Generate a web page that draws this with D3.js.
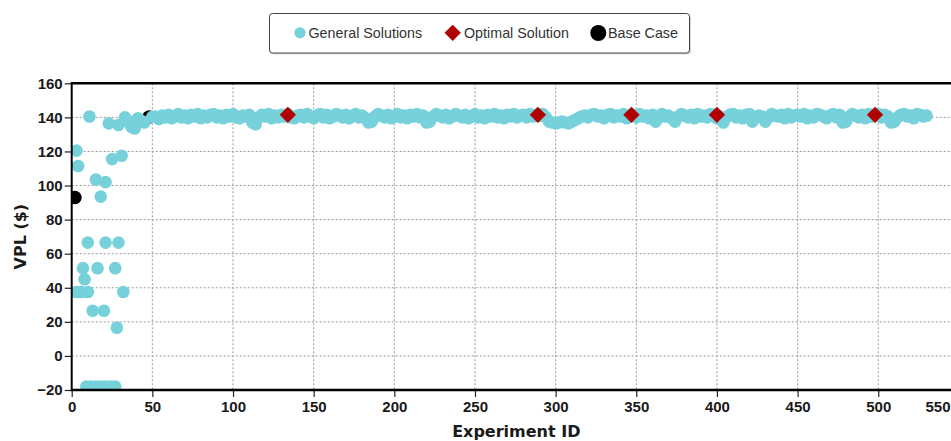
<!DOCTYPE html>
<html>
<head>
<meta charset="utf-8">
<script src="https://cdn.jsdelivr.net/npm/d3@7"></script>
<style>
  html, body { margin: 0; padding: 0; background: #fff; }
  svg { display: block; }
</style>
</head>
<body>
<svg id="chart" width="951" height="441"></svg>
<script>
// ---------- DATA ----------
const xTicks = [0, 50, 100, 150, 200, 250, 300, 350, 400, 450, 500, 550];
const yTicks = [-20, 0, 20, 40, 60, 80, 100, 120, 140, 160];

// General solutions: early scattered experiments (ID, VPL)
const earlyIds    = [3, 4, 15, 21, 18, 25, 31, 10, 21, 29, 7, 16, 27, 8, 3, 6, 10, 32, 13, 20, 28,
                     9, 12, 15, 18, 21, 24, 27,
                     11, 23, 29, 33, 34, 36, 37, 39, 41, 43, 45];
const earlyValues = [120.5, 111.5, 103.5, 102, 93.5, 115.5, 117.5, 66.5, 66.5, 66.5, 51.5, 51.5, 51.5, 45, 37.5, 37.5, 37.5, 37.5, 26.5, 26.5, 16.5,
                     -18, -18, -18, -18, -18, -18, -18,
                     140.5, 136.5, 135.5, 140, 138.5, 136.5, 134.5, 133.5, 139.5, 138, 137];

// General solutions: converged band, experiment IDs 50..530 sampled every 2
const bandIds = d3.range(50, 531, 2);
const bandValues = [
  140.3, 140.5, 139, 141, 140, 141.5, 139.5, 140.5, 142, 140,
  141, 139.5, 141.5, 140.5, 142, 139.5, 141, 140, 141.5, 142,
  140, 141, 139.5, 141.5, 140.5, 142, 140, 139.5, 141, 140.5,
  141.5, 137, 136, 140, 141.5, 140.5, 142, 139.5, 141, 140,
  141.5, 140.5, 142, 140, 139.5, 141, 141.5, 140, 142, 140.5,
  139.5, 141, 142, 140, 141.5, 139.5, 140.5, 142, 141, 140,
  141.5, 139.5, 140.5, 142, 140, 141, 139.5, 137, 137.5, 140.5,
  142, 141, 140, 141.5, 139.5, 140.5, 142, 140, 141, 139.5,
  141.5, 140.5, 142, 140, 141, 137, 137.5, 140.5, 142, 141,
  140, 141.5, 139.5, 140.5, 142, 141, 140, 141.5, 139.5, 140.5,
  142, 140, 141, 139.5, 141.5, 140.5, 142, 140, 141, 139.5,
  141.5, 140.5, 142, 140, 141, 141.5, 140, 142, 140.5, 141.5,
  141, 142, 140, 137.5, 137, 136.5, 137, 137.5, 137, 136.5,
  137.5, 138.5, 139.5, 140.5, 141, 140, 141.5, 142, 140.5, 141,
  139.5, 141.5, 142, 140, 141, 140.5, 142, 139.5, 141, 141.5,
  140, 142, 140.5, 141, 139.5, 141.5, 137.5, 140, 142, 140.5,
  141, 139.5, 137.5, 140.5, 142, 141, 140, 141.5, 139.5, 142,
  140.5, 141, 140, 142, 141.5, 139.5, 140.5, 137, 140, 141.5,
  142, 140, 141, 139.5, 141.5, 142, 137.5, 140, 141, 140.5,
  137.5, 140, 142, 141, 140.5, 141.5, 139.5, 142, 140, 141,
  141.5, 140.5, 142, 139.5, 141, 140, 142, 141.5, 140.5, 139.5,
  141, 142, 140, 141.5, 137, 137.5, 140.5, 142, 141, 140,
  141.5, 139.5, 142, 140.5, 141, 142, 140, 141.5, 140.5, 137,
  137.5, 140, 141.5, 142, 140.5, 141, 139.5, 142, 141.5, 140.5,
  141
];

// Optimal solutions
const optimalIds    = [134, 289, 347, 400, 498];
const optimalValues = [141.5, 141.5, 141.5, 141.5, 141.5];

// Base case
const baseIds    = [2, 48];
const baseValues = [93, 140.2];

const legendLabels = ["General Solutions", "Optimal Solution", "Base Case"];

// ---------- STYLE ----------
const cyan = "#76d1db";
const red = "#b00000";

const svg = d3.select("#chart");
svg.append("rect").attr("width", 951).attr("height", 441).attr("fill", "#fff");

const x = d3.scaleLinear().domain([0, 550]).range([71.7, 958.9]);
const y = d3.scaleLinear().domain([-20, 160]).range([390, 83.3]);

// Grid
const grid = svg.append("g");
grid.selectAll("line.h").data(yTicks.filter(t => t > -20 && t < 160)).join("line")
  .attr("x1", x(0)).attr("x2", x(550))
  .attr("y1", d => y(d)).attr("y2", d => y(d))
  .attr("stroke", "#9a9a9a").attr("stroke-width", 1).attr("stroke-dasharray", "2,2");
grid.selectAll("line.v").data(xTicks.filter(t => t > 0)).join("line")
  .attr("y1", y(160)).attr("y2", y(-20))
  .attr("x1", d => x(d)).attr("x2", d => x(d))
  .attr("stroke", "#9a9a9a").attr("stroke-width", 1).attr("stroke-dasharray", "2,2");

// Clip
svg.append("clipPath").attr("id", "plotclip").append("rect")
  .attr("x", x(0)).attr("y", y(160)).attr("width", x(550) - x(0)).attr("height", y(-20) - y(160));
const plot = svg.append("g").attr("clip-path", "url(#plotclip)");

// Base case (under general solutions)
plot.selectAll("circle.base").data(baseIds.map((d, i) => [d, baseValues[i]])).join("circle")
  .attr("cx", d => x(d[0])).attr("cy", d => y(d[1])).attr("r", 6.8).attr("fill", "#000");

// General solutions
const gen = earlyIds.map((d, i) => [d, earlyValues[i]])
  .concat(bandIds.map((d, i) => [d, bandValues[i]]));
plot.selectAll("circle.gen").data(gen).join("circle")
  .attr("cx", d => x(d[0])).attr("cy", d => y(d[1])).attr("r", 6.3).attr("fill", cyan);

// Optimal
const diamond = d3.symbol().type(d3.symbolDiamond2).size(170);
plot.selectAll("path.opt").data(optimalIds.map((d, i) => [d, optimalValues[i]])).join("path")
  .attr("transform", d => `translate(${x(d[0])},${y(d[1])})`)
  .attr("d", diamond).attr("fill", red);

// Axes
const tickFont = "'Liberation Sans', Arial, sans-serif";
const yAxis = svg.append("g").attr("transform", `translate(${x(0)},0)`)
  .call(d3.axisLeft(y).tickValues(yTicks).tickSize(7).tickPadding(2).tickSizeOuter(0));
const xAxis = svg.append("g").attr("transform", `translate(0,${y(-20)})`)
  .call(d3.axisBottom(x).tickValues(xTicks).tickSize(7).tickPadding(4).tickSizeOuter(0));
[yAxis, xAxis].forEach(a => {
  a.select(".domain").remove();
  a.selectAll(".tick line").attr("stroke", "#222").attr("stroke-width", 1.2);
  a.selectAll(".tick text").attr("fill", "#1a1a1a")
    .style("font-family", tickFont).style("font-weight", "bold").style("font-size", "15px");
});
// keep the last x label inside the picture
xAxis.selectAll(".tick").filter(d => d === 550).select("text")
  .attr("text-anchor", "end").attr("x", 950 - x(550));

// Frame lines
svg.append("line").attr("x1", x(0)).attr("x2", 951).attr("y1", y(160)).attr("y2", y(160))
  .attr("stroke", "#000").attr("stroke-width", 2.5);
svg.append("line").attr("x1", x(0)).attr("x2", 951).attr("y1", y(-20)).attr("y2", y(-20))
  .attr("stroke", "#000").attr("stroke-width", 2.5);
svg.append("line").attr("x1", x(0)).attr("x2", x(0)).attr("y1", y(160) - 1.2).attr("y2", y(-20) + 1.2)
  .attr("stroke", "#000").attr("stroke-width", 2);

// Axis titles
const titleFont = "'DejaVu Sans', sans-serif";
svg.append("text").attr("x", (x(0) + x(550)) / 2 + 1).attr("y", 437)
  .attr("text-anchor", "middle").attr("fill", "#1a1a1a")
  .style("font-family", titleFont).style("font-weight", "bold").style("font-size", "16px")
  .text("Experiment ID");
svg.append("text").attr("transform", `translate(25.5,${(y(160) + y(-20)) / 2}) rotate(-90)`)
  .attr("text-anchor", "middle").attr("fill", "#1a1a1a")
  .style("font-family", titleFont).style("font-weight", "bold").style("font-size", "16px")
  .text("VPL ($)");

// Legend
const lg = svg.append("g");
lg.append("rect").attr("x", 271).attr("y", 15).attr("width", 420).attr("height", 39.5).attr("rx", 3)
  .attr("fill", "#d8d8d8");
lg.append("rect").attr("x", 269.5).attr("y", 13.5).attr("width", 420).attr("height", 39.5).attr("rx", 3)
  .attr("fill", "#fff").attr("stroke", "#444").attr("stroke-width", 1);
const legFont = "'Liberation Sans', Arial, sans-serif";
lg.append("circle").attr("cx", 300).attr("cy", 32.8).attr("r", 5.6).attr("fill", cyan);
lg.append("path").attr("transform", "translate(452.7,32.8)").attr("d", diamond).attr("fill", red);
lg.append("circle").attr("cx", 598.3).attr("cy", 33).attr("r", 8).attr("fill", "#000");
const legX = [308.5, 464, 608];
lg.selectAll("text").data(legendLabels).join("text")
  .attr("x", (d, i) => legX[i]).attr("y", 38)
  .attr("fill", "#333")
  .style("font-family", legFont).style("font-size", "14.3px")
  .text(d => d);
</script>
</body>
</html>
